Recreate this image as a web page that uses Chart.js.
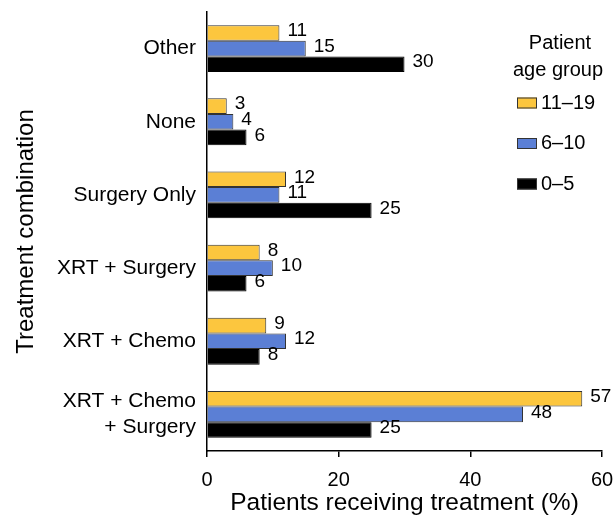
<!DOCTYPE html>
<html>
<head>
<meta charset="utf-8">
<script src="https://cdn.jsdelivr.net/npm/chart.js@4.4.0/dist/chart.umd.min.js"></script>
<style>
html,body{margin:0;padding:0;background:#fff;}
#wrap{width:615px;height:517px;position:relative;}
</style>
</head>
<body>
<div id="wrap"><canvas id="c" width="615" height="517"></canvas></div>
<script>
const categories = ['Other', 'None', 'Surgery Only', 'XRT + Surgery', 'XRT + Chemo', ['XRT + Chemo', '+ Surgery']];
const seriesLabels = ['11\u201319', '6\u201310', '0\u20135'];
const age11to19 = [11, 3, 12, 8, 9, 57];
const age6to10 = [15, 4, 11, 10, 12, 48];
const age0to5 = [30, 6, 25, 6, 8, 25];
const xTicks = [0, 20, 40, 60];
const legendTitle = ['Patient', 'age group'];
const xTitle = 'Patients receiving treatment (%)';
const yTitle = 'Treatment combination';

const colors = ['#fcc63e', '#5b7fd5', '#000000'];
const FONT = '"Liberation Sans", Arial, sans-serif';

const valueLabels = {
  id: 'valueLabels',
  afterDatasetsDraw(chart) {
    const ctx = chart.ctx;
    ctx.save();
    ctx.font = '19px ' + FONT;
    ctx.fillStyle = '#000';
    ctx.textAlign = 'left';
    ctx.textBaseline = 'middle';
    chart.data.datasets.forEach((ds, i) => {
      const meta = chart.getDatasetMeta(i);
      meta.data.forEach((bar, j) => {
        ctx.fillText(String(ds.data[j]), bar.x + 8, bar.y - 2);
      });
    });
    ctx.restore();
  }
};

const customLegend = {
  id: 'customLegend',
  afterDraw(chart) {
    const ctx = chart.ctx;
    ctx.save();
    ctx.font = '20px ' + FONT;
    ctx.fillStyle = '#000';
    ctx.textAlign = 'center';
    ctx.textBaseline = 'middle';
    ctx.fillText(legendTitle[0], 560, 43);
    ctx.fillText(legendTitle[1], 558, 70);
    chart.data.datasets.forEach((ds, i) => {
      const cy = 103 + i * 40.5;
      ctx.fillStyle = ds.backgroundColor;
      ctx.fillRect(517, cy - 5.5, 20, 11);
      ctx.strokeStyle = '#333';
      ctx.lineWidth = 1;
      ctx.strokeRect(517.5, cy - 5, 19, 10);
      ctx.fillStyle = '#000';
      ctx.textAlign = 'left';
      ctx.fillText(ds.label, 541, cy);
    });
    ctx.restore();
  }
};

new Chart(document.getElementById('c'), {
  type: 'bar',
  data: {
    labels: categories,
    datasets: [
      { label: seriesLabels[0], data: age11to19, backgroundColor: colors[0], borderColor: '#333', borderWidth: 1 },
      { label: seriesLabels[1], data: age6to10, backgroundColor: colors[1], borderColor: '#333', borderWidth: 1 },
      { label: seriesLabels[2], data: age0to5, backgroundColor: colors[2], borderColor: '#000', borderWidth: 1 }
    ]
  },
  options: {
    indexAxis: 'y',
    responsive: false,
    animation: false,
    categoryPercentage: 0.64,
    barPercentage: 1.0,
    layout: { padding: { top: 12, right: 13, bottom: 0, left: 0 } },
    plugins: {
      legend: { display: false },
      tooltip: { enabled: false }
    },
    scales: {
      x: {
        type: 'linear',
        min: 0,
        max: 60,
        afterBuildTicks(scale) { scale.ticks = xTicks.map(v => ({ value: v })); },
        afterFit(scale) { scale.height = 66; scale.paddingLeft = 0; scale.paddingRight = 0; },
        grid: { display: true, drawOnChartArea: false, drawTicks: true, tickLength: 6, color: '#000', lineWidth: 1.5 },
        border: { display: true, color: '#000', width: 1.5 },
        ticks: { color: '#000', font: { family: FONT, size: 20 }, padding: 11, maxRotation: 0 },
        title: { display: true, text: xTitle, color: '#000', font: { family: FONT, size: 24.5, lineHeight: 1.0 }, padding: { top: 0, bottom: 2 } }
      },
      y: {
        afterFit(scale) { scale.width = 207; scale.paddingTop = 0; scale.paddingBottom = 0; },
        grid: { display: false, drawTicks: false },
        border: { display: true, color: '#000', width: 1.5 },
        ticks: { color: '#000', font: { family: FONT, size: 21, lineHeight: 1.25 }, padding: 11, crossAlign: 'near' },
        title: { display: true, text: yTitle, color: '#000', font: { family: FONT, size: 24 }, padding: { top: 12, bottom: 0 } }
      }
    }
  },
  plugins: [valueLabels, customLegend]
});
</script>
</body>
</html>
